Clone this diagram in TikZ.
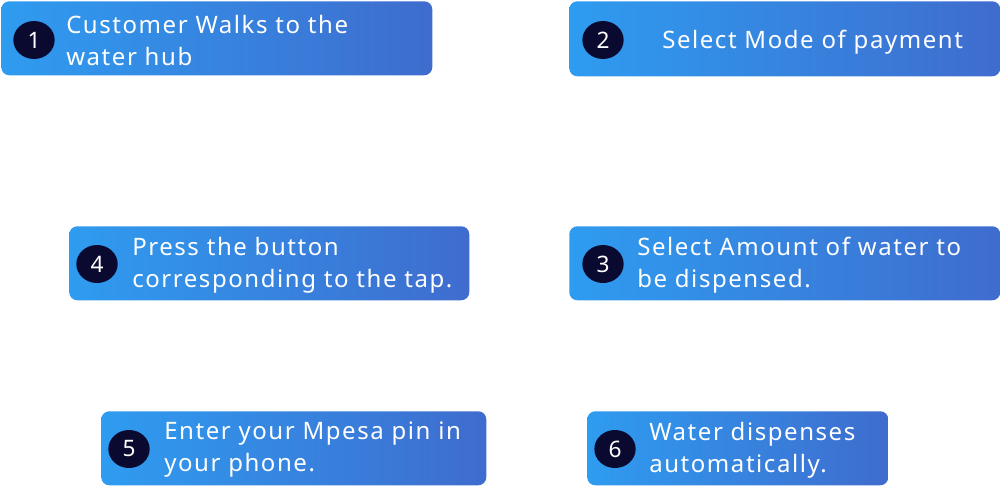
\documentclass[tikz,border=0pt]{standalone}
\usepackage{fontspec}
\setmainfont{Noto Sans}[LetterSpace=6.5]
\usetikzlibrary{calc, shapes.geometric}
\definecolor{stepleft}{HTML}{2E9CF0}
\definecolor{stepright}{HTML}{3F6CCE}
\definecolor{badgenavy}{HTML}{0A0A30}

\begin{document}
\begin{tikzpicture}[x=0.75pt, y=-0.75pt]
	\tikzstyle{stepbox}=[rectangle, rounded corners=6pt, anchor=north west,
	left color=stepleft, right color=stepright, draw=none,
	minimum height=55.5pt, inner sep=0pt]
	\tikzstyle{badge}=[ellipse, fill=badgenavy, text=white,
	minimum width=31pt, minimum height=28.5pt, inner sep=0pt,
	font=\fontsize{17}{20}\selectfont]
	\tikzstyle{steptext}=[anchor=west, align=left, text=white, inner sep=0pt,
	font=\fontsize{18}{24}\selectfont]

	\useasboundingbox (0,0) rectangle (1000,486);

	\node[stepbox, minimum width=323.25pt] at (1,1) (box1) {};
	\node[stepbox, minimum width=323.25pt, minimum height=56.25pt] at (569,1) (box2) {};
	\node[stepbox, minimum width=300pt] at (69,226) (box4) {};
	\node[stepbox, minimum width=323.25pt] at (569,226) (box3) {};
	\node[stepbox, minimum width=288.75pt] at (101,411) (box5) {};
	\node[stepbox, minimum width=225.75pt] at (587,411) (box6) {};

	\node[badge] at (34,40) (num1) {1};
	\node[badge] at (603,40) (num2) {2};
	\node[badge] at (97,264) (num4) {4};
	\node[badge] at (603,264) (num3) {3};
	\node[badge] at (129,449) (num5) {5};
	\node[badge] at (615,449) (num6) {6};

	\node[steptext] at (66,40) (text1) {Customer Walks to the\\water hub};
	\node[steptext] at (662,42) (text2) {Select Mode of payment};
	\node[steptext] at (132,265) (text4) {Press the button\\corresponding to the tap.};
	\node[steptext] at (637,265) (text3) {Select Amount of water to\\be dispensed.};
	\node[steptext] at (164,450) (text5) {Enter your Mpesa pin in\\your phone.};
	\node[steptext] at (649,450) (text6) {Water dispenses\\automatically.};
\end{tikzpicture}
\end{document}
